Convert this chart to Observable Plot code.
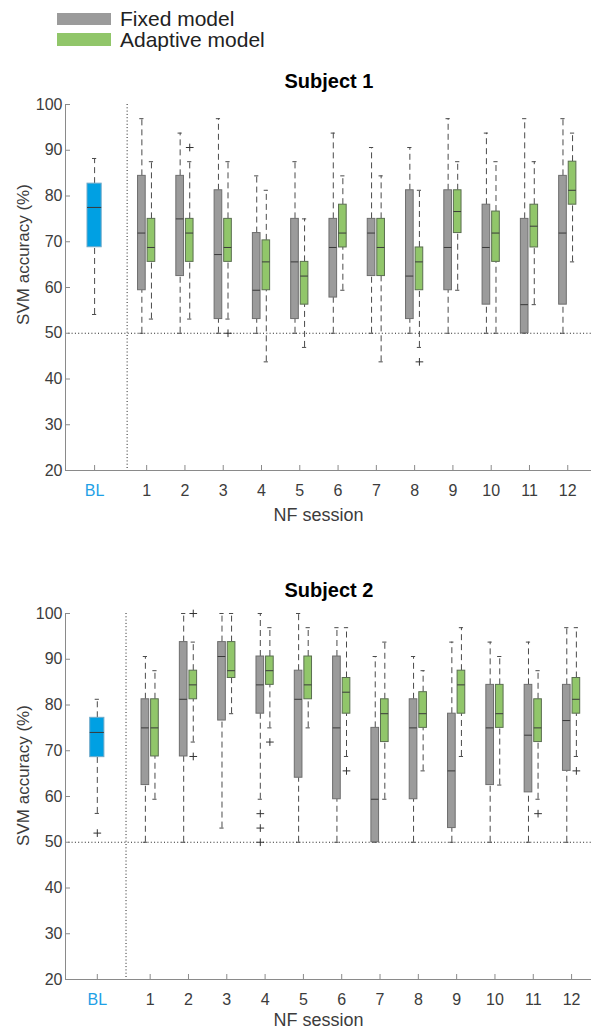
<!DOCTYPE html>
<html>
<head>
<meta charset="utf-8">
<script src="https://cdn.jsdelivr.net/npm/d3@7"></script>
<script src="https://cdn.jsdelivr.net/npm/@observablehq/plot@0.6"></script>
<style>
  html, body { margin: 0; padding: 0; background: #fff; }
  body { font-family: "Liberation Sans", Arial, Helvetica, sans-serif; }
  #root { position: relative; width: 592px; height: 1032px; overflow: hidden; }
  .abs { position: absolute; }
  .sw { position: absolute; left: 57px; width: 54px; }
  .lg { position: absolute; left: 120px; font-size: 21px; line-height: 21px; color: #222; white-space: nowrap; }
  .title { position: absolute; width: 200px; text-align: center; font-size: 20px; line-height: 20px; font-weight: bold; color: #000; }
</style>
</head>
<body>
<div id="root"></div>
<script>
// ---------------- data ----------------
const sessions = [1, 2, 3, 4, 5, 6, 7, 8, 9, 10, 11, 12];
const xTickLabels = ["BL", "1", "2", "3", "4", "5", "6", "7", "8", "9", "10", "11", "12"];
const yTicks = [20, 30, 40, 50, 60, 70, 80, 90, 100];
const chanceLevel = 50;
const seriesNames = ["Fixed model", "Adaptive model"];
const subjectTitles = ["Subject 1", "Subject 2"];

// box summaries: [lower whisker, Q1, median, Q3, upper whisker]
const s1Baseline = [54.1, 68.8, 77.5, 82.7, 88.2];
const s1BaselineOut = [];
const s1Fixed = [
  [50, 59.4, 71.9, 84.4, 96.9],
  [50, 62.5, 75, 84.4, 93.75],
  [50, 53.1, 67.2, 81.25, 96.9],
  [50, 53.1, 59.4, 71.9, 84.4],
  [50, 53.1, 65.6, 75, 87.5],
  [50, 57.8, 68.75, 75, 93.75],
  [50, 62.5, 71.9, 75, 90.6],
  [50, 53.1, 62.5, 81.25, 90.6],
  [50, 59.4, 68.75, 81.25, 96.9],
  [50, 56.25, 68.75, 78.1, 93.75],
  [50, 50, 56.25, 75, 96.9],
  [50, 56.25, 71.9, 84.4, 96.9]
];
const s1Adaptive = [
  [53.1, 65.6, 68.75, 75, 87.5],
  [53.1, 65.6, 71.9, 75, 87.5],
  [53.1, 65.6, 68.75, 75, 87.5],
  [43.75, 59.4, 65.6, 70.3, 81.25],
  [46.9, 56.25, 62.5, 65.6, 75],
  [59.4, 68.75, 71.9, 78.1, 84.4],
  [43.75, 62.5, 68.75, 75, 84.4],
  [46.9, 59.4, 65.6, 68.75, 81.25],
  [59.4, 71.9, 76.6, 81.25, 87.5],
  [50, 65.6, 71.9, 76.6, 87.5],
  [56.25, 68.75, 73.4, 78.1, 87.5],
  [65.6, 78.1, 81.25, 87.5, 93.75]
];
// outliers: [session, value]
const s1FixedOut = [];
const s1AdaptiveOut = [[2, 90.6], [3, 50], [8, 43.75]];

const s2Baseline = [56.3, 68.6, 74.0, 77.2, 81.25];
const s2BaselineOut = [52];
const s2Fixed = [
  [50, 62.5, 75, 81.25, 90.6],
  [50, 68.75, 81.25, 93.75, 100],
  [53.1, 76.6, 90.6, 93.75, 100],
  [59.4, 78.1, 84.4, 90.6, 100],
  [50, 64.1, 81.25, 87.5, 100],
  [50, 59.4, 75, 90.6, 96.9],
  [50, 50, 59.4, 75, 90.6],
  [50, 59.4, 75, 81.25, 90.6],
  [50, 53.1, 65.6, 78.1, 93.75],
  [50, 62.5, 75, 84.4, 93.75],
  [50, 60.9, 73.4, 84.4, 93.75],
  [50, 65.6, 76.6, 84.4, 96.9]
];
const s2Adaptive = [
  [59.4, 68.75, 75, 81.25, 87.5],
  [71.9, 81.25, 84.4, 87.5, 93.75],
  [78.1, 85.9, 87.5, 93.75, 100],
  [75, 84.4, 87.5, 90.6, 96.9],
  [75, 81.25, 84.4, 90.6, 96.9],
  [68.75, 78.1, 82.8, 85.9, 96.9],
  [59.4, 71.9, 78.1, 81.25, 93.75],
  [65.6, 75, 78.1, 82.8, 87.5],
  [68.75, 78.1, 84.4, 87.5, 96.9],
  [62.5, 75, 78.1, 84.4, 90.6],
  [59.4, 71.9, 75, 81.25, 87.5],
  [68.75, 78.1, 81.25, 85.9, 96.9]
];
const s2FixedOut = [[4, 56.25], [4, 53.1], [4, 50]];
const s2AdaptiveOut = [[2, 100], [2, 68.75], [4, 71.9], [6, 65.6], [11, 56.25], [12, 65.6]];

// ---------------- style ----------------
const FONT = '"Liberation Sans", Arial, Helvetica, sans-serif';
const C_GRAY = "#9b9b9b";
const C_GREEN = "#91c66a";
const C_BLUE = "#00a0e3";
const C_BLUE_TXT = "#1ea0e6";
const TXT = "#3c3c3c";
const AXIS = "#8a8a8a";
const OFF = 0.125;   // half distance between paired boxes
const BW = 0.2;      // paired box width
const BLW = 0.37;    // baseline box width
const CAP = 0.055;   // half cap width

function buildRows(base, fixed, adaptive, blPos) {
  const mk = (s, x, w, fill, stroke) => ({x, w, lo: s[0], q1: s[1], med: s[2], q3: s[3], hi: s[4], fill, stroke});
  const rows = [mk(base, blPos, BLW, C_BLUE, "#6fa9c8")];
  sessions.forEach((k, i) => {
    rows.push(mk(fixed[i], k - OFF, BW, C_GRAY, "#6e6e6e"));
    rows.push(mk(adaptive[i], k + OFF, BW, C_GREEN, "#5a6e50"));
  });
  return rows;
}
function buildOut(baseOut, fixedOut, adaptiveOut, blPos) {
  return [
    ...baseOut.map(v => ({x: blPos, y: v})),
    ...fixedOut.map(([k, v]) => ({x: k - OFF, y: v})),
    ...adaptiveOut.map(([k, v]) => ({x: k + OFF, y: v}))
  ];
}

function chart(cfg) {
  const rows = buildRows(cfg.base, cfg.fixed, cfg.adaptive, cfg.blPos);
  const outs = buildOut(cfg.baseOut, cfg.fixedOut, cfg.adaptiveOut, cfg.blPos);
  const xTicks = [cfg.blPos, ...sessions];
  return Plot.plot({
    width: 592,
    height: 432,
    marginLeft: 65,
    marginRight: 1,
    marginTop: 10,
    marginBottom: 56,
    x: {domain: cfg.xDomain},
    y: {domain: [20, 100]},
    color: {type: "identity"},
    style: {fontFamily: FONT, background: "transparent", overflow: "visible"},
    marks: [
      // chance line & BL separator
      Plot.ruleY([chanceLevel], {stroke: "#222", strokeWidth: 1, strokeDasharray: "1,2.3"}),
      Plot.ruleX([cfg.sepPos], {stroke: "#222", strokeWidth: 1, strokeDasharray: "1,2.3"}),
      // whiskers
      Plot.ruleX(rows.filter(d => d.hi > d.q3), {x: "x", y1: "q3", y2: "hi", stroke: "#4a4a4a", strokeWidth: 1, strokeDasharray: "6,4"}),
      Plot.ruleX(rows.filter(d => d.lo < d.q1), {x: "x", y1: "lo", y2: "q1", stroke: "#4a4a4a", strokeWidth: 1, strokeDasharray: "6,4"}),
      // caps
      Plot.ruleY(rows, {y: "hi", x1: d => d.x - CAP, x2: d => d.x + CAP, stroke: "#4a4a4a", strokeWidth: 1}),
      Plot.ruleY(rows, {y: "lo", x1: d => d.x - CAP, x2: d => d.x + CAP, stroke: "#4a4a4a", strokeWidth: 1}),
      // boxes
      Plot.rect(rows, {x1: d => d.x - d.w / 2, x2: d => d.x + d.w / 2, y1: "q1", y2: "q3", fill: "fill", stroke: "stroke", strokeWidth: 1}),
      // medians
      Plot.ruleY(rows, {y: "med", x1: d => d.x - d.w / 2, x2: d => d.x + d.w / 2, stroke: "#3a3a3a", strokeWidth: 1}),
      // outliers
      Plot.dot(outs, {x: "x", y: "y", symbol: "plus", r: 2.6, stroke: "#333", strokeWidth: 1}),
      // axes lines
      Plot.ruleY([20], {stroke: AXIS, strokeWidth: 1}),
      Plot.ruleX([cfg.xDomain[0]], {stroke: AXIS, strokeWidth: 1}),
      Plot.axisY({ticks: yTicks, tickSize: -5, tickPadding: 8, stroke: AXIS, fill: TXT, fontSize: 16, label: null}),
      Plot.axisX({ticks: xTicks, tickSize: -5, tickPadding: 19, tickFormat: (d, i) => xTickLabels[i],
        stroke: AXIS, fill: d => (d === cfg.blPos ? C_BLUE_TXT : TXT), fontSize: 16, label: null}),
      // axis labels
      Plot.text(["SVM accuracy (%)"], {text: d => d, frameAnchor: "left", textAnchor: "middle", lineAnchor: "middle",
        rotate: -90, dx: -41.5, dy: cfg.yLabelDy, fontSize: 17, fill: TXT}),
      Plot.text(["NF session"], {text: d => d, frameAnchor: "bottom", textAnchor: "middle", lineAnchor: "middle",
        dx: -10, dy: cfg.xLabelDy, fontSize: 18, fill: TXT})
    ]
  });
}

// ---------------- layout ----------------
const root = document.getElementById("root");

// legend
const legendColors = [C_GRAY, C_GREEN];
const legendTops = [[12.7, 7.5], [33.3, 28.7]];
seriesNames.forEach((name, i) => {
  const sw = document.createElement("div");
  sw.className = "sw";
  sw.style.top = legendTops[i][0] + "px";
  sw.style.height = "12.5px";
  sw.style.background = legendColors[i];
  root.appendChild(sw);
  const t = document.createElement("div");
  t.className = "lg";
  t.style.top = legendTops[i][1] + "px";
  t.textContent = name;
  root.appendChild(t);
});

const configs = [
  {base: s1Baseline, baseOut: s1BaselineOut, fixed: s1Fixed, adaptive: s1Adaptive, fixedOut: s1FixedOut, adaptiveOut: s1AdaptiveOut,
   xDomain: [-1.12, 12.62], blPos: -0.36, sepPos: 0.49, yLabelDy: -33, xLabelDy: 45, top: 94, titleTop: 71},
  {base: s2Baseline, baseOut: s2BaselineOut, fixed: s2Fixed, adaptive: s2Adaptive, fixedOut: s2FixedOut, adaptiveOut: s2AdaptiveOut,
   xDomain: [-1.21, 12.52], blPos: -0.38, sepPos: 0.37, yLabelDy: -21, xLabelDy: 41, top: 603, titleTop: 580}
];

configs.forEach((cfg, i) => {
  const title = document.createElement("div");
  title.className = "title";
  title.style.left = "229px";
  title.style.top = cfg.titleTop + "px";
  title.textContent = subjectTitles[i];
  root.appendChild(title);

  const holder = document.createElement("div");
  holder.className = "abs";
  holder.style.left = "0px";
  holder.style.top = cfg.top + "px";
  holder.appendChild(chart(cfg));
  root.appendChild(holder);
});
</script>
</body>
</html>
